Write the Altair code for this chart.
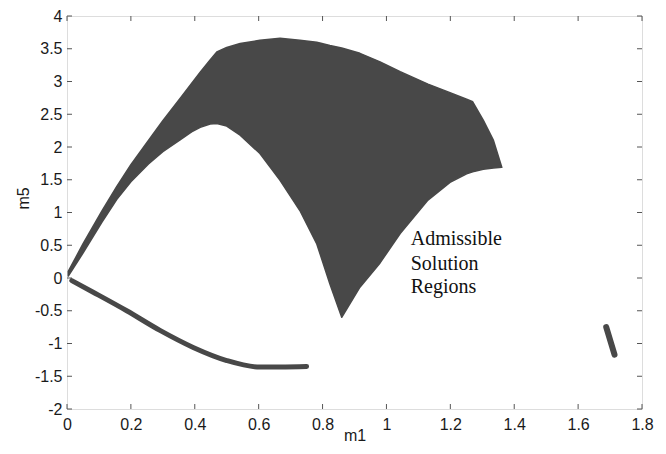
import altair as alt
import pandas as pd

# Main admissible region: x with upper and lower boundary values (m1, m5)
region_m1 = [0.004, 0.05, 0.109, 0.156, 0.20, 0.255, 0.30, 0.354, 0.39, 0.417, 0.448,
             0.469, 0.50, 0.542, 0.604, 0.667, 0.729, 0.782, 0.823, 0.86, 0.917, 0.98,
             1.043, 1.13, 1.199, 1.251, 1.27, 1.303, 1.335, 1.361]
region_upper = [0.10, 0.52, 1.02, 1.40, 1.73, 2.10, 2.40, 2.74, 2.97, 3.14, 3.33,
                3.45, 3.52, 3.58, 3.63, 3.66, 3.63, 3.60, 3.55, 3.51, 3.43, 3.30,
                3.15, 2.96, 2.83, 2.73, 2.69, 2.41, 2.10, 1.69]
region_lower = [0.03, 0.38, 0.85, 1.20, 1.47, 1.74, 1.93, 2.11, 2.23, 2.30, 2.35,
                2.36, 2.32, 2.18, 1.90, 1.49, 1.03, 0.52, -0.09, -0.60, -0.14, 0.23,
                0.68, 1.19, 1.46, 1.59, 1.62, 1.66, 1.68, 1.69]

# Lower thin branch
branch_m1 = [0.015, 0.082, 0.187, 0.291, 0.395, 0.50, 0.604, 0.75]
branch_m5 = [-0.04, -0.217, -0.50, -0.80, -1.06, -1.26, -1.36, -1.35]

# Small isolated segment
seg_m1 = [1.688, 1.714]
seg_m5 = [-0.75, -1.17]

# Annotation
note_lines = ["Admissible", "Solution", "Regions"]
note_m1 = [1.076, 1.076, 1.076]
note_m5 = [0.50, 0.125, -0.23]

x_ticks = [0, 0.2, 0.4, 0.6, 0.8, 1, 1.2, 1.4, 1.6, 1.8]
y_ticks = [-2, -1.5, -1, -0.5, 0, 0.5, 1, 1.5, 2, 2.5, 3, 3.5, 4]

W, H = 575, 393
FILL = "#484848"
FRAME = "#555555"
TL = 5

xs = alt.Scale(domain=[0, 1.8], nice=False, zero=False)
ys = alt.Scale(domain=[-2, 4], nice=False, zero=False)

region_df = pd.DataFrame({"m1": region_m1, "upper": region_upper, "lower": region_lower})
branch_df = pd.DataFrame({"m1": branch_m1, "m5": branch_m5})
seg_df = pd.DataFrame({"m1": seg_m1, "m5": seg_m5})
note_df = pd.DataFrame({"m1": note_m1, "m5": note_m5, "t": note_lines})
xt_df = pd.DataFrame({"m1": x_ticks})
yt_df = pd.DataFrame({"m5": y_ticks})

x_axis = alt.Axis(values=x_ticks, labelExpr="'' + datum.value", domain=False, ticks=False,
                  grid=False, labelPadding=7, labelFont="Liberation Sans", labelFontSize=16,
                  labelColor="#1a1a1a", title="m1", titleFont="Liberation Sans",
                  titleFontSize=16, titleFontWeight="normal", titleColor="#1a1a1a",
                  titleBaseline="middle", titleY=26, labelFlush=False)
y_axis = alt.Axis(values=y_ticks, labelExpr="'' + datum.value", domain=False, ticks=False,
                  grid=False, labelPadding=5, labelFont="Liberation Sans", labelFontSize=16,
                  labelColor="#1a1a1a", title="m5", titleFont="Liberation Sans",
                  titleFontSize=16, titleFontWeight="normal", titleColor="#1a1a1a",
                  titleAngle=-90, titleAlign="center", titleBaseline="middle",
                  titleX=-44, titleY=182, labelFlush=False)

X = alt.X("m1:Q", scale=xs, axis=x_axis, title="m1")
Y = alt.Y("m5:Q", scale=ys, axis=y_axis, title="m5")

area = alt.Chart(region_df).mark_area(color=FILL, stroke=FILL, strokeWidth=1.5,
                                      strokeJoin="round").encode(
    x=X,
    y=alt.Y("upper:Q", scale=ys, axis=y_axis, title="m5"),
    y2="lower:Q",
)

branch = alt.Chart(branch_df).mark_line(color=FILL, strokeWidth=5, interpolate="monotone",
                                        strokeCap="round").encode(x=X, y=Y)

seg = alt.Chart(seg_df).mark_line(color=FILL, strokeWidth=6, strokeCap="round").encode(x=X, y=Y)

note = alt.Chart(note_df).mark_text(align="left", baseline="alphabetic",
                                    font="Liberation Serif", fontSize=20,
                                    color="#111111").encode(x=X, y=Y, text="t:N")

tick_bottom = alt.Chart(xt_df).mark_rule(color=FRAME, strokeWidth=1).encode(
    x=X, y=alt.value(H), y2=alt.value(H - TL))
tick_top = alt.Chart(xt_df).mark_rule(color=FRAME, strokeWidth=1).encode(
    x=X, y=alt.value(0), y2=alt.value(TL))
tick_left = alt.Chart(yt_df).mark_rule(color=FRAME, strokeWidth=1).encode(
    y=Y, x=alt.value(0), x2=alt.value(TL))
tick_right = alt.Chart(yt_df).mark_rule(color=FRAME, strokeWidth=1).encode(
    y=Y, x=alt.value(W), x2=alt.value(W - TL))

chart = alt.layer(area, branch, seg, note, tick_bottom, tick_top, tick_left, tick_right).properties(
    width=W, height=H,
    autosize=alt.AutoSizeParams(type="none"),
    padding={"left": 59, "top": 8, "right": 16, "bottom": 37},
).configure_view(stroke=FRAME, strokeWidth=1.5).configure(background="white")

chart.save("out.html", embed_options={"renderer": "svg", "actions": False})
